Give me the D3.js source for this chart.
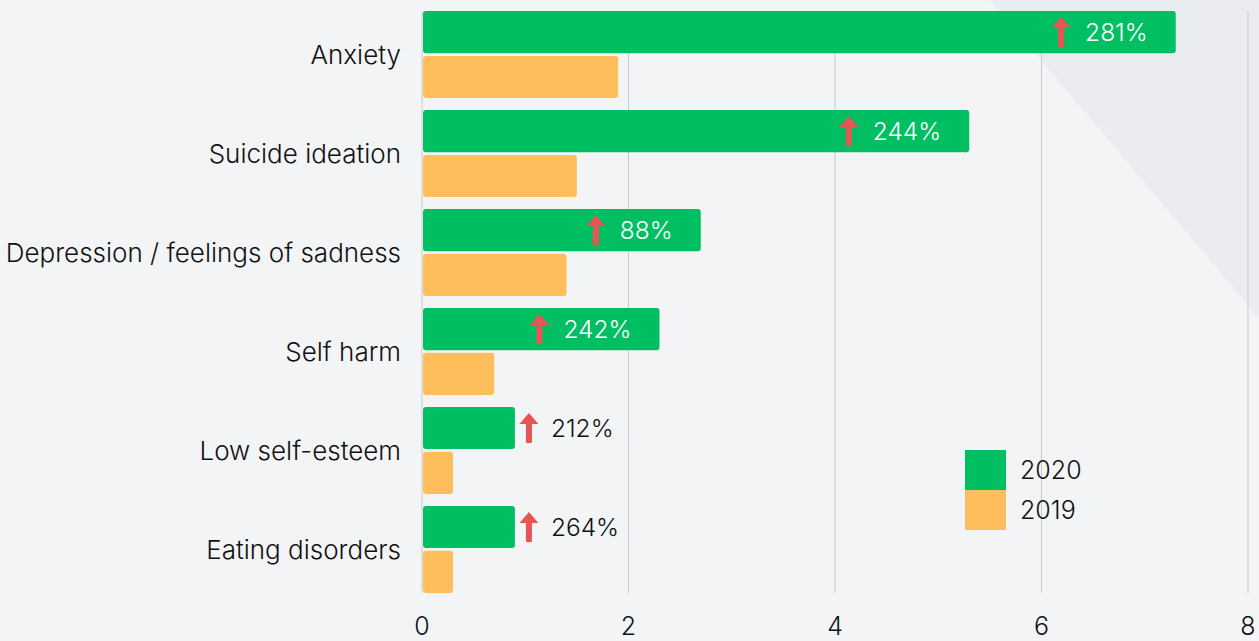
<!DOCTYPE html>
<html>
<head>
<meta charset="utf-8">
<script src="https://cdn.jsdelivr.net/npm/d3@7"></script>
<style>
  html, body { margin: 0; padding: 0; background: #f3f4f6; }
  svg { display: block; font-family: Inter, Roboto, sans-serif; }
</style>
</head>
<body>
<div id="chart"></div>
<script>
const categories = ["Anxiety", "Suicide ideation", "Depression / feelings of sadness", "Self harm", "Low self-esteem", "Eating disorders"];
const values2020 = [7.3, 5.3, 2.7, 2.3, 0.9, 0.9];
const values2019 = [1.9, 1.5, 1.4, 0.7, 0.3, 0.3];
const increases = ["281%", "244%", "88%", "242%", "212%", "264%"];
const xTicks = [0, 2, 4, 6, 8];
const seriesNames = ["2020", "2019"];

const width = 1259;
const height = 641;
const margin = { top: 11, right: 11, bottom: 48, left: 422 };
const colors = { "2020": "#00bf63", "2019": "#ffbe5c" };
const fontSize = 26;

const svg = d3.select("#chart").append("svg").attr("width", width).attr("height", height);

// background with faint diagonal shape in the top right
svg.append("rect").attr("width", width).attr("height", height).attr("fill", "#f3f4f6");
svg.append("path").attr("d", `M990,0 L${width},0 L${width},318 Z`).attr("fill", "#ebecef");

const x = d3.scaleLinear().domain([0, 8]).range([margin.left, width - margin.right]);
const y = d3.scaleBand().domain(categories).range([margin.top, height - margin.bottom]).paddingInner(0.12).paddingOuter(0);
const sub = d3.scaleBand().domain(seriesNames).range([0, y.bandwidth()]).paddingInner(0.06);

// grid
svg.append("g")
    .selectAll("line")
    .data(xTicks)
    .join("line")
    .attr("x1", d => x(d)).attr("x2", d => x(d))
    .attr("y1", margin.top).attr("y2", height - margin.bottom)
    .attr("stroke", "#c9c9cc").attr("stroke-width", 1);

// x tick labels
svg.append("g")
    .selectAll("text")
    .data(xTicks)
    .join("text")
    .attr("x", d => x(d))
    .attr("y", 635)
    .attr("text-anchor", "middle")
    .attr("font-size", 25)
    .attr("font-weight", 300)
    .attr("fill", "#111")
    .text(d => d);

// bars
const rows = categories.map((c, i) => ({ c, v20: values2020[i], v19: values2019[i], inc: increases[i] }));

const bars = svg.append("g");
bars.selectAll(".b20")
    .data(rows)
    .join("rect")
    .attr("x", x(0) + 1)
    .attr("y", d => y(d.c) + sub("2020"))
    .attr("width", d => x(d.v20) - x(0) - 1)
    .attr("height", sub.bandwidth())
    .attr("rx", 3)
    .attr("fill", colors["2020"]);
bars.selectAll(".b19")
    .data(rows)
    .join("rect")
    .attr("x", x(0) + 1)
    .attr("y", d => y(d.c) + sub("2019"))
    .attr("width", d => x(d.v19) - x(0) - 1)
    .attr("height", sub.bandwidth())
    .attr("rx", 3)
    .attr("fill", colors["2019"]);

// category labels
svg.append("g")
    .selectAll("text")
    .data(categories)
    .join("text")
    .attr("x", 401)
    .attr("y", d => y(d) + y.bandwidth() / 2)
    .attr("dy", "0.35em")
    .attr("text-anchor", "end")
    .attr("font-size", fontSize)
    .attr("font-weight", 300)
    .attr("fill", "#111")
    .text(d => d);

// increase labels with arrows
const arrowPath = "M0,-15 L9.5,-4 L3,-4 L3,14 Q3,15 2,15 L-2,15 Q-3,15 -3,14 L-3,-4 L-9.5,-4 Z";
rows.forEach(d => {
    const cy = y(d.c) + sub("2020") + sub.bandwidth() / 2;
    const end = x(d.v20);
    const inside = d.v20 > 2;
    const g = svg.append("g");
    const t = g.append("text")
        .attr("y", cy)
        .attr("dy", "0.35em")
        .attr("font-size", 24.5)
        .attr("font-weight", 300)
        .attr("fill", inside ? "#fff" : "#111")
        .text(d.inc);
    const tw = t.node().getComputedTextLength();
    let textX, arrowX;
    if (inside) {
        textX = end - 28 - tw;
        arrowX = textX - 24;
    } else {
        arrowX = end + 14;
        textX = end + 36;
    }
    t.attr("x", textX);
    g.append("path").attr("d", arrowPath).attr("transform", `translate(${arrowX},${cy})`).attr("fill", "#e85454");
});

// legend
const legend = svg.append("g").attr("transform", "translate(965,450)");
seriesNames.forEach((s, i) => {
    legend.append("rect").attr("x", 0).attr("y", i * 40).attr("width", 41).attr("height", 40).attr("fill", colors[s]);
    legend.append("text").attr("x", 55).attr("y", i * 40 + 20).attr("dy", "0.35em")
        .attr("font-size", 25).attr("font-weight", 300).attr("fill", "#111").text(s);
});
</script>
</body>
</html>
